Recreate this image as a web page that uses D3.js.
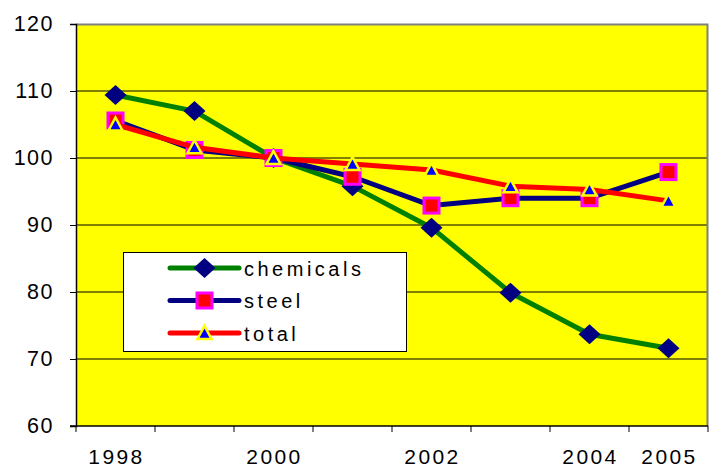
<!DOCTYPE html>
<html>
<head>
<meta charset="utf-8">
<script src="https://cdn.jsdelivr.net/npm/d3@7/dist/d3.min.js"></script>
<style>
  html, body { margin: 0; padding: 0; background: #fff; }
  svg { display: block; font-family: Arial, "Liberation Sans", sans-serif; }
</style>
</head>
<body>
<svg id="chart" width="709" height="468"></svg>
<script>
// Index values per year, 2000 = 100
const years = ["1998", "1999", "2000", "2001", "2002", "2003", "2004", "2005"];
const chemicals = [109.4, 107.0, 100.0, 95.8, 89.6, 79.9, 73.7, 71.6];
const steel = [105.6, 101.2, 100.0, 97.2, 92.9, 94.0, 94.0, 97.9];
const total = [105.0, 101.6, 100.0, 99.1, 98.2, 95.8, 95.3, 93.6];
const yTicks = [60, 70, 80, 90, 100, 110, 120];
const xTickLabels = ["1998", "2000", "2002", "2004", "2005"];

const series = [
  { name: "chemicals", values: chemicals, line: "#008000", marker: "diamond" },
  { name: "steel", values: steel, line: "#000080", marker: "square" },
  { name: "total", values: total, line: "#FF0000", marker: "triangle" }
];

const svg = d3.select("#chart");
const plot = { left: 76, top: 24, right: 708, bottom: 426 };

const x = d3.scaleBand().domain(years).range([plot.left, plot.right]);
const y = d3.scaleLinear().domain([60, 120]).range([plot.bottom, plot.top]);
const cx = d => x(d) + x.bandwidth() / 2;

// plot background
svg.append("rect")
  .attr("x", plot.left).attr("y", plot.top)
  .attr("width", plot.right - plot.left).attr("height", plot.bottom - plot.top)
  .attr("fill", "#FFFF00");

// horizontal gridlines
svg.append("g").selectAll("line")
  .data(yTicks.filter(t => t > 60 && t < 120))
  .join("line")
  .attr("x1", plot.left).attr("x2", plot.right)
  .attr("y1", d => y(d)).attr("y2", d => y(d))
  .attr("stroke", "#000").attr("stroke-width", 1);

// plot frame (top and right in grey)
svg.append("path")
  .attr("d", `M${plot.left},${plot.top + 0.5}H${plot.right - 0.5}V${plot.bottom}`)
  .attr("fill", "none").attr("stroke", "#808080").attr("stroke-width", 2);

// y axis
const yAxis = d3.axisLeft(y).tickValues(yTicks).tickSize(6).tickPadding(16);
const gy = svg.append("g").attr("transform", `translate(${plot.left},0)`).call(yAxis);
gy.select(".domain").attr("stroke", "#000").attr("stroke-width", 1.5);
gy.selectAll(".tick line").attr("stroke", "#000");
gy.selectAll(".tick text")
  .attr("fill", "#000").attr("font-size", 21.5).attr("letter-spacing", 1.5)
  .attr("font-family", "Arial, 'Liberation Sans', sans-serif");

// x axis: ticks on category boundaries, labels at category centres
const boundaries = years.map(d => x(d)).concat([plot.right]);
const gx = svg.append("g");
gx.append("line")
  .attr("x1", plot.left - 6).attr("x2", plot.right)
  .attr("y1", plot.bottom).attr("y2", plot.bottom)
  .attr("stroke", "#000").attr("stroke-width", 1.5);
gx.selectAll("line.tick")
  .data(boundaries)
  .join("line").attr("class", "tick")
  .attr("x1", d => d).attr("x2", d => d)
  .attr("y1", plot.bottom).attr("y2", plot.bottom + 6)
  .attr("stroke", "#000");
gx.selectAll("text")
  .data(xTickLabels)
  .join("text")
  .attr("x", d => cx(d) + 1).attr("y", 464)
  .attr("text-anchor", "middle")
  .attr("font-size", 21).attr("letter-spacing", 2.4)
  .attr("fill", "#000")
  .text(d => d);

// marker drawing
function drawMarker(g, type, px, py) {
  if (type === "diamond") {
    g.append("path")
      .attr("d", `M${px},${py - 10}L${px + 11},${py}L${px},${py + 10}L${px - 11},${py}Z`)
      .attr("fill", "#000080");
  } else if (type === "square") {
    g.append("rect")
      .attr("x", px - 7.5).attr("y", py - 7.5).attr("width", 15).attr("height", 15)
      .attr("fill", "#FF0000").attr("stroke", "#FF00FF").attr("stroke-width", 3);
  } else {
    g.append("path")
      .attr("d", `M${px},${py - 7}L${px + 7},${py + 6}L${px - 7},${py + 6}Z`)
      .attr("fill", "#0000FF").attr("stroke", "#FFFF00").attr("stroke-width", 2.5)
      .attr("stroke-linejoin", "miter");
  }
}

const line = d3.line().x((d, i) => cx(years[i])).y(d => y(d));

series.forEach(s => {
  const g = svg.append("g");
  g.append("path")
    .datum(s.values)
    .attr("d", line)
    .attr("fill", "none").attr("stroke", s.line).attr("stroke-width", 5)
    .attr("stroke-linejoin", "round");
  s.values.forEach((v, i) => drawMarker(g, s.marker, cx(years[i]), y(v)));
});

// legend
const legend = svg.append("g");
legend.append("rect")
  .attr("x", 123.5).attr("y", 252.5).attr("width", 283).attr("height", 99)
  .attr("fill", "#fff").attr("stroke", "#000").attr("stroke-width", 1);
series.forEach((s, i) => {
  const ly = 268 + i * 32.5;
  const g = legend.append("g");
  g.append("line")
    .attr("x1", 170).attr("x2", 239).attr("y1", ly).attr("y2", ly)
    .attr("stroke", s.line).attr("stroke-width", 5).attr("stroke-linecap", "round");
  drawMarker(g, s.marker, 204.5, ly);
  g.append("text")
    .attr("x", 244).attr("y", ly + 7.5)
    .attr("font-size", 20).attr("letter-spacing", 3.5)
    .attr("fill", "#000")
    .text(s.name);
});
</script>
</body>
</html>
